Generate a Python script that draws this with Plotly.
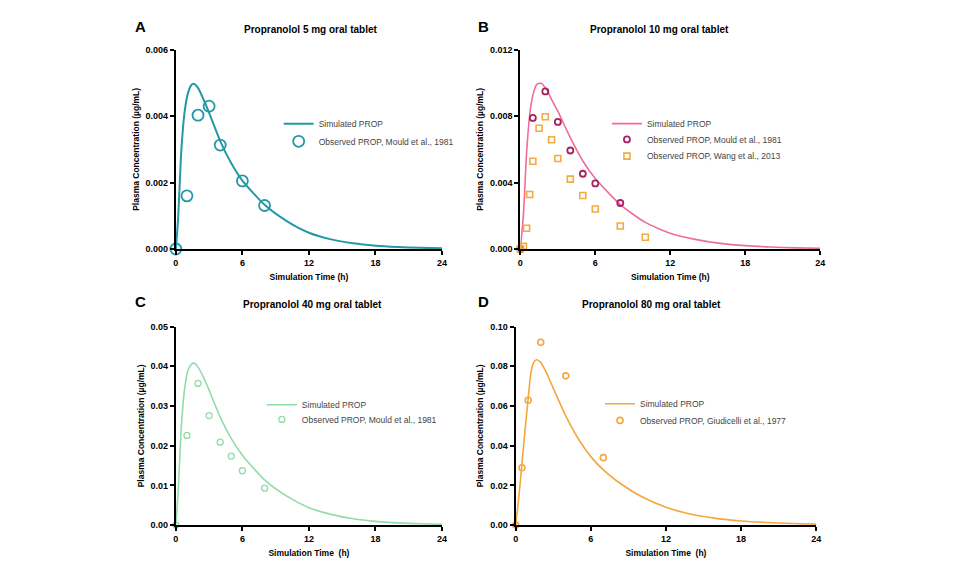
import plotly.graph_objects as go

# ---------------- data ----------------
# Panel A: 5 mg
simA_t = [0, 0.2, 0.5, 0.8, 1.1, 1.4, 1.65, 2.0, 2.5, 3, 4, 5, 6, 8, 10, 12, 14, 16, 18, 20, 22, 24]
simA_c = [0, 0.0009, 0.0030, 0.00415, 0.0047, 0.00494, 0.00497, 0.00485, 0.0045, 0.0041, 0.00325,
          0.00258, 0.00206, 0.00133, 0.00084, 0.00049, 0.00029, 0.00017, 0.0001, 0.00006, 0.000035, 0.00002]
obsA_t = [0, 1, 2, 3, 4, 6, 8]
obsA_c = [0, 0.0016, 0.00403, 0.0043, 0.00313, 0.00205, 0.00131]

# Panel B: 10 mg
simB_t = [0, 0.25, 0.5, 0.8, 1.05, 1.3, 1.65, 2.1, 2.5, 3, 4, 5, 6, 8, 10, 12, 14, 16, 18, 20, 22, 24]
simB_c = [0, 0.0021, 0.0058, 0.0084, 0.0094, 0.0099, 0.00998, 0.0096, 0.0090, 0.0083, 0.0067, 0.0053,
          0.00425, 0.00267, 0.0016, 0.00095, 0.00058, 0.00034, 0.0002, 0.00012, 0.00007, 0.00004]
obsB_mould_t = [0, 1, 2, 3, 4, 5, 6, 8]
obsB_mould_c = [0, 0.00789, 0.00949, 0.00765, 0.00593, 0.00453, 0.00395, 0.00277]
obsB_wang_t = [0, 0.25, 0.5, 0.75, 1, 1.5, 2, 2.5, 3, 4, 5, 6, 8, 10]
obsB_wang_c = [0, 0.00016, 0.00125, 0.00328, 0.00528, 0.00727, 0.00796, 0.00658, 0.00545, 0.00421,
               0.00322, 0.00241, 0.00138, 0.00071]

# Panel C: 40 mg
simC_t = [0, 0.2, 0.5, 0.8, 1.1, 1.4, 1.65, 2.0, 2.5, 3, 4, 5, 6, 8, 10, 12, 14, 16, 18, 20, 22, 24]
simC_c = [0, 0.008, 0.025, 0.0345, 0.039, 0.0405, 0.0408, 0.0398, 0.0372, 0.034, 0.0272, 0.0218,
          0.0176, 0.0114, 0.0073, 0.0044, 0.0027, 0.0016, 0.00095, 0.00056, 0.00033, 0.0002]
obsC_t = [0, 1, 2, 3, 4, 5, 6, 8]
obsC_c = [0, 0.0226, 0.0357, 0.0276, 0.0209, 0.0174, 0.0137, 0.0093]

# Panel D: 80 mg
simD_t = [0, 0.25, 0.5, 0.75, 1.0, 1.2, 1.4, 1.65, 2.0, 2.5, 3, 4, 5, 6, 7, 8, 10, 12, 14, 16, 18, 20, 22, 24]
simD_c = [0, 0.014, 0.031, 0.048, 0.064, 0.076, 0.0815, 0.0833, 0.082, 0.0762, 0.0690, 0.0550, 0.0435,
          0.0345, 0.0278, 0.0226, 0.0145, 0.0090, 0.0055, 0.0034, 0.0021, 0.0013, 0.0008, 0.0005]
obsD_t = [0, 0.5, 1, 2, 4, 7]
obsD_c = [0, 0.0289, 0.0629, 0.0921, 0.0752, 0.034]

x_ticks = [0, 6, 12, 18, 24]
titles = ["Propranolol 5 mg oral tablet", "Propranolol 10 mg oral tablet",
          "Propranolol 40 mg oral tablet", "Propranolol 80 mg oral tablet"]
letters = ["A", "B", "C", "D"]

# ---------------- style ----------------
W, H = 960, 576
FONT = "Liberation Sans, Arial, Helvetica, sans-serif"
cA = "#2399a8"
cB = "#ee6d9b"
cBm = "#a8235f"
cBw = "#f5a941"
cC = "#92dcaa"
cD = "#f4a63f"

def px(x):
    return x / W

def py(y):
    return 1 - y / H

fig = go.Figure()

# A
fig.add_trace(go.Scatter(x=simA_t, y=simA_c, mode="lines", line=dict(color=cA, width=2, shape="spline", smoothing=0.6),
                         name="Simulated PROP", xaxis="x", yaxis="y", legend="legend"))
fig.add_trace(go.Scatter(x=obsA_t, y=obsA_c, mode="markers", cliponaxis=False,
                         marker=dict(symbol="circle-open", size=11, color=cA, line=dict(width=1.8, color=cA)),
                         name="Observed PROP, Mould et al., 1981", xaxis="x", yaxis="y", legend="legend2"))
# B
fig.add_trace(go.Scatter(x=simB_t, y=simB_c, mode="lines", line=dict(color=cB, width=1.6, shape="spline", smoothing=0.6),
                         name="Simulated PROP", xaxis="x2", yaxis="y2", legend="legend3"))
fig.add_trace(go.Scatter(x=obsB_mould_t, y=obsB_mould_c, mode="markers", cliponaxis=False,
                         marker=dict(symbol="circle-open", size=6, color=cBm, line=dict(width=1.8, color=cBm)),
                         name="Observed PROP, Mould et al., 1981", xaxis="x2", yaxis="y2", legend="legend4"))
fig.add_trace(go.Scatter(x=obsB_wang_t, y=obsB_wang_c, mode="markers", cliponaxis=False,
                         marker=dict(symbol="square-open", size=6, color=cBw, line=dict(width=1.6, color=cBw)),
                         name="Observed PROP, Wang et al., 2013", xaxis="x2", yaxis="y2", legend="legend5"))
# C
fig.add_trace(go.Scatter(x=simC_t, y=simC_c, mode="lines", line=dict(color=cC, width=1.6, shape="spline", smoothing=0.6),
                         name="Simulated PROP", xaxis="x3", yaxis="y3", legend="legend6"))
fig.add_trace(go.Scatter(x=obsC_t, y=obsC_c, mode="markers", cliponaxis=False,
                         marker=dict(symbol="circle-open", size=6, color=cC, line=dict(width=1.3, color=cC)),
                         name="Observed PROP, Mould et al., 1981", xaxis="x3", yaxis="y3", legend="legend7"))
# D
fig.add_trace(go.Scatter(x=simD_t, y=simD_c, mode="lines", line=dict(color=cD, width=1.6, shape="spline", smoothing=0.6),
                         name="Simulated PROP", xaxis="x4", yaxis="y4", legend="legend8"))
fig.add_trace(go.Scatter(x=obsD_t, y=obsD_c, mode="markers", cliponaxis=False,
                         marker=dict(symbol="circle-open", size=6, color=cD, line=dict(width=1.6, color=cD)),
                         name="Observed PROP, Giudicelli et al., 1977", xaxis="x4", yaxis="y4", legend="legend9"))

# ---------------- axes ----------------
def xax(domain, anchor, title):
    return dict(domain=domain, anchor=anchor, range=[0, 24], tickvals=x_ticks,
                showgrid=False, zeroline=False, showline=True, linecolor="black", linewidth=2,
                ticks="outside", ticklen=4, tickwidth=1.5, tickcolor="black",
                tickfont=dict(family=FONT, size=9, color="black", weight="bold"),
                title=dict(text=title, font=dict(family=FONT, size=8.5, color="black", weight="bold"), standoff=7))

def yax(domain, anchor, rng, dtick, fmt):
    return dict(domain=domain, anchor=anchor, range=rng, dtick=dtick, tick0=0, tickformat=fmt,
                showgrid=False, zeroline=False, showline=True, linecolor="black", linewidth=2,
                ticks="outside", ticklen=4, tickwidth=1.5, tickcolor="black",
                tickfont=dict(family=FONT, size=9, color="black", weight="bold"),
                title=dict(text="Plasma Concentration (µg/mL)", font=dict(family=FONT, size=8.5, color="black", weight="bold"), standoff=5))

dxA = [px(174.3), px(442.7)]
dxB = [px(521.7), px(824)]
dxC = [px(174.3), px(442.7)]
dxD = [px(517), px(820)]
dyTop = [py(248.3), py(45.5)]
dyBot = [py(529.3), py(327.3)]

legfont = dict(family=FONT, size=8.5, color="#444444")

def leg(x, ycenter):
    return dict(x=px(x), y=py(ycenter - 17), xanchor="left", yanchor="top", bgcolor="rgba(0,0,0,0)",
                font=legfont, itemwidth=30, tracegroupgap=0)

annotations = []
title_pos = [(310, 25), (662, 25), (312, 305), (654, 305)]
letter_pos = [(139, 22), (485, 22), (139, 302), (485, 302)]
for t, (x, y) in zip(titles, title_pos):
    annotations.append(dict(text=t, x=px(x), y=py(y), xref="paper", yref="paper", showarrow=False,
                            xanchor="center", yanchor="middle",
                            font=dict(family=FONT, size=10, color="black", weight="bold")))
for t, (x, y) in zip(letters, letter_pos):
    annotations.append(dict(text=t, x=px(x), y=py(y), xref="paper", yref="paper", showarrow=False,
                            xanchor="center", yanchor="middle",
                            font=dict(family=FONT, size=15, color="black", weight="bold")))

fig.update_layout(
    width=W, height=H, margin=dict(l=0, r=0, t=0, b=0),
    paper_bgcolor="white", plot_bgcolor="white",
    showlegend=True,
    xaxis=xax(dxA, "y", "Simulation Time (h)"),
    yaxis=yax(dyTop, "x", [0, 0.006], 0.002, ".3f"),
    xaxis2=xax(dxB, "y2", "Simulation Time (h)"),
    yaxis2=yax(dyTop, "x2", [0, 0.012], 0.004, ".3f"),
    xaxis3=xax(dxC, "y3", "Simulation Time\u00a0 (h)"),
    yaxis3=yax(dyBot, "x3", [0, 0.05], 0.01, ".2f"),
    xaxis4=xax(dxD, "y4", "Simulation Time\u00a0 (h)"),
    yaxis4=yax(dyBot, "x4", [0, 0.10], 0.02, ".2f"),
    legend=leg(278, 123),
    legend2=leg(278, 141),
    legend3=leg(609, 123),
    legend4=leg(609, 139),
    legend5=leg(609, 156),
    legend6=leg(261, 409),
    legend7=leg(261, 424),
    legend8=leg(602, 408),
    legend9=leg(602, 425),
    annotations=annotations,
)

fig.write_html("out.html")
